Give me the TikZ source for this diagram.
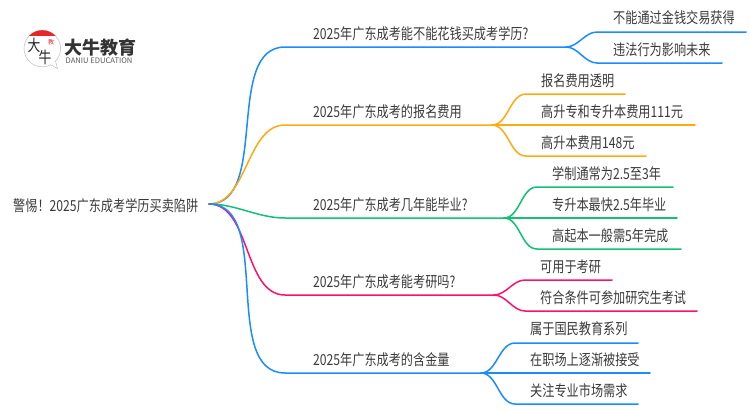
\documentclass[tikz,border=0pt]{standalone}
\usepackage{fontspec}
\setmainfont{Noto Sans CJK SC}
\newfontfamily\cjk[FakeStretch=0.8]{Noto Sans CJK SC}
\usetikzlibrary{positioning}
\definecolor{bluelink}{HTML}{1A8CFF}
\definecolor{orangelink}{HTML}{FFAA0F}
\definecolor{greenlink}{HTML}{12C173}
\definecolor{pinklink}{HTML}{FF0F6E}
\definecolor{inktext}{HTML}{3A3A3A}
\definecolor{logored}{HTML}{E8262A}
\tikzset{
    label/.style={anchor=west, inner sep=0pt, text=inktext, font=\cjk\fontsize{15.2}{15}\selectfont},
    link/.style={line width=1.5pt, line cap=round},
    curve/.style={link, out=0, in=180, looseness=0.9}
}

\begin{document}
\begin{tikzpicture}[x=1pt, y=-1pt]
    \useasboundingbox (0,0) rectangle (750,410);

    % logo
    \fill[white, draw=black!25, line width=0.5pt] (42.3,48.5) circle (18.3);
    \draw[black!25, line width=0.5pt, fill=white] (50,64.5) -- (57.5,68.5) -- (55.5,61);
    \begin{scope}
        \clip (42.3,48.5) circle (18.3);
        \fill[logored] (22,28) rectangle (62,35.5);
    \end{scope}
    \node[inner sep=0pt, text=black!85, font=\cjk\fontsize{16}{16}\selectfont] (logodai) at (34,45) {大};
    \node[inner sep=0pt, text=black!85, font=\cjk\fontsize{16}{16}\selectfont] (logoniu) at (45,57) {牛};
    \node[inner sep=0pt, text=logored, font=\fontsize{6}{6}\selectfont] (logoseal) at (51,42) {教};
    \node[inner sep=0pt, anchor=west, text=black!80, font=\fontsize{18}{18}\selectfont\bfseries] (logoname) at (64,47.5) {大牛教育};
    \node[inner sep=0pt, anchor=west, text=black!65, font=\fontsize{7.6}{8}\selectfont] (logoeng) at (65.5,60.5) {DANIU EDUCATION};

    % root
    \node[label] (root) at (13,206) {警惕！2025广东成考学历买卖陷阱};
    \coordinate (rootpt) at (209,204);

    % branch texts
    \node[label] (feeA) at (313,34) {2025年广东成考能不能花钱买成考学历?};
    \node[label] (feeB) at (313,112) {2025年广东成考的报名费用};
    \node[label] (feeC) at (313,205) {2025年广东成考几年能毕业?};
    \node[label] (feeD) at (313,282) {2025年广东成考能考研吗?};
    \node[label] (feeE) at (313,360) {2025年广东成考的含金量};

    % leaf texts
    \node[label] (leafA1) at (613,18) {不能通过金钱交易获得};
    \node[label] (leafA2) at (613,50) {违法行为影响未来};
    \node[label] (leafB1) at (541,81) {报名费用透明};
    \node[label] (leafB2) at (541,112) {高升专和专升本费用111元};
    \node[label] (leafB3) at (541,143) {高升本费用148元};
    \node[label] (leafC1) at (552,174) {学制通常为2.5至3年};
    \node[label] (leafC2) at (552,205) {专升本最快2.5年毕业};
    \node[label] (leafC3) at (552,236) {高起本一般需5年完成};
    \node[label] (leafD1) at (540,267) {可用于考研};
    \node[label] (leafD2) at (540,298) {符合条件可参加研究生考试};
    \node[label] (leafE1) at (530,329) {属于国民教育系列};
    \node[label] (leafE2) at (530,360) {在职场上逐渐被接受};
    \node[label] (leafE3) at (530,391) {关注专业市场需求};

    % points on the lines
    \coordinate (a0) at (285,47);  \coordinate (a1) at (566,47);
    \coordinate (b0) at (285,125); \coordinate (b1) at (492,125);
    \coordinate (c0) at (285,218); \coordinate (c1) at (504,218);
    \coordinate (d0) at (285,295); \coordinate (d1) at (494,295);
    \coordinate (e0) at (285,373); \coordinate (e1) at (481,373);

    % first blue branch
    \draw[link, bluelink] (rootpt) to[curve] (a0) -- (a1);
    \coordinate (a1s) at (597,32); \coordinate (a1e) at (746,32);
    \coordinate (a2s) at (597,63); \coordinate (a2e) at (722,63);
    \draw[link, bluelink] (a1) to[curve] (a1s) -- (a1e);
    \draw[link, bluelink] (a1) to[curve] (a2s) -- (a2e);

    % orange branch
    \draw[link, orangelink] (rootpt) to[curve] (b0) -- (b1);
    \coordinate (b1s) at (526,94);  \coordinate (b1e) at (625,94);
    \coordinate (b2e) at (695,125);
    \coordinate (b3s) at (526,156); \coordinate (b3e) at (646,156);
    \draw[link, orangelink] (b1) to[curve] (b1s) -- (b1e);
    \draw[link, orangelink] (b1) -- (b2e);
    \draw[link, orangelink] (b1) to[curve] (b3s) -- (b3e);

    % green branch
    \draw[link, greenlink] (rootpt) to[curve] (c0) -- (c1);
    \coordinate (c1s) at (537,187); \coordinate (c1e) at (673,187);
    \coordinate (c2e) at (677,218);
    \coordinate (c3s) at (537,249); \coordinate (c3e) at (681,249);
    \draw[link, greenlink] (c1) to[curve] (c1s) -- (c1e);
    \draw[link, greenlink] (c1) -- (c2e);
    \draw[link, greenlink] (c1) to[curve] (c3s) -- (c3e);

    % pink branch
    \draw[link, pinklink] (rootpt) to[curve] (d0) -- (d1);
    \coordinate (d1s) at (525,280); \coordinate (d1e) at (612,280);
    \coordinate (d2s) at (525,311); \coordinate (d2e) at (697,311);
    \draw[link, pinklink] (d1) to[curve] (d1s) -- (d1e);
    \draw[link, pinklink] (d1) to[curve] (d2s) -- (d2e);

    % last blue branch
    \draw[link, bluelink] (rootpt) to[curve] (e0) -- (e1);
    \coordinate (e1s) at (515,343); \coordinate (e1e) at (638,343);
    \coordinate (e2e) at (650,373);
    \coordinate (e3s) at (515,404); \coordinate (e3e) at (638,404);
    \draw[link, bluelink] (e1) to[curve] (e1s) -- (e1e);
    \draw[link, bluelink] (e1) -- (e2e);
    \draw[link, bluelink] (e1) to[curve] (e3s) -- (e3e);
\end{tikzpicture}
\end{document}
